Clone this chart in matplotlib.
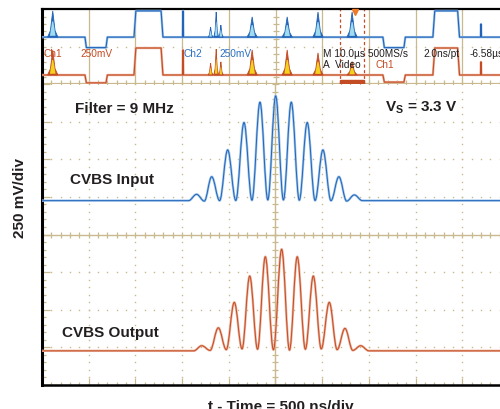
import numpy as np
import matplotlib
matplotlib.use("Agg")
import matplotlib.pyplot as plt
from matplotlib.path import Path
from matplotlib.patches import PathPatch, Rectangle

plt.rcParams['font.family'] = ['Liberation Sans', 'DejaVu Sans']
plt.rcParams['mathtext.fontset'] = 'custom'
plt.rcParams['mathtext.rm'] = 'Liberation Sans'
plt.rcParams['mathtext.bf'] = 'Liberation Sans:bold'

# zoomed view: time in ns (500 ns/div), level in mV (250 mV/div)
input_t = [-2500, -930, -845, -762, -683, -598, -512, -425, -337, -252, -166, -82,
           2, 85, 169, 255, 340, 424, 508, 594, 679, 762, 844, 930, 2404]
input_v = [225, 225, 267, 222, 384, 225, 562, 226, 744, 228, 879, 230,
           921, 230, 879, 228, 744, 226, 562, 225, 384, 222, 263, 225, 225]

output_t = [-2500, -875, -790, -700, -612, -527, -441, -358, -276, -192, -109, -22,
            66, 150, 233, 320, 405, 490, 576, 660, 744, 828, 912, 1000, 2404]
output_v = [-773, -773, -739, -770, -620, -765, -451, -760, -276, -762, -148, -766,
            -98, -768, -148, -762, -276, -760, -451, -765, -624, -770, -739, -773, -773]

# overview strip: time in us (10 us/div), level in strip units
top_blue_t = [-50, -40.8, -40.5, -36.3, -36.0, -30.3, -29.9, -24.5, -24.1, -19.9, -19.8, -19.7,
              23.0, 23.3, 27.5, 27.8, 33.7, 34.1, 39.0, 39.4, 43.9, 44.0, 44.1, 48.1]
top_blue_v = [1.25, 1.25, 0.97, 0.97, 1.25, 1.25, 1.95, 1.95, 1.25, 1.25, 1.95, 1.25,
              1.25, 0.97, 0.97, 1.25, 1.25, 1.95, 1.95, 1.25, 1.25, 1.6, 1.25, 1.25]
top_red_t = top_blue_t
top_red_v = [0.24, 0.24, 0.03, 0.03, 0.24, 0.24, 0.96, 0.96, 0.24, 0.24, 0.91, 0.24,
             0.24, 0.05, 0.05, 0.24, 0.24, 0.96, 0.96, 0.24, 0.24, 0.59, 0.24, 0.24]

burst_t = [-47.7, -5.0, 2.5, 9.1, 16.4]
burst_blue = [1.95, 1.79, 1.79, 1.92, 1.92]
burst_red = [0.91, 0.91, 0.91, 0.83, 0.60]
cluster_t = [-13.9, -12.7, -11.7]
cluster_blue = [1.52, 1.92, 1.57]
cluster_red = [0.56, 0.93, 0.59]

zoom_start, zoom_end = 13.9, 18.9

tan = '#c9b98f'
blue = '#2364b8'
blue_lt = '#9cc4ea'
red = '#c44c24'
red_lt = '#eab09a'
ink = '#231f20'


def wave_path(t, v, k=0.364):
    verts = [(t[0], v[0])]
    codes = [Path.MOVETO]
    for i in range(1, len(t)):
        dt = t[i] - t[i - 1]
        verts += [(t[i - 1] + k * dt, v[i - 1]), (t[i] - k * dt, v[i]), (t[i], v[i])]
        codes += [Path.CURVE4] * 3
    return Path(verts, codes)


def burst(ax, c, top, base, w, dark, light):
    h = top - base
    xs = [c - w, c - 0.45 * w, c - 0.12 * w, c, c + 0.12 * w, c + 0.45 * w, c + w]
    ys = [base, base + 0.25 * h, base + 0.8 * h, top, base + 0.8 * h, base + 0.25 * h, base]
    ax.fill(xs, ys, color=dark, lw=0.6, ec=dark, zorder=4)
    xs2 = [c - 0.55 * w, c - 0.1 * w, c + 0.1 * w, c + 0.55 * w]
    ys2 = [base + 0.05 * h, base + 0.6 * h, base + 0.6 * h, base + 0.05 * h]
    ax.fill(xs2, ys2, color=light, lw=0, zorder=5)


fig = plt.figure(figsize=(5.0, 4.09), dpi=100)
ax = fig.add_axes([42 / 500, 24 / 409, 458 / 500, 301 / 409])
top = fig.add_axes([42 / 500, 325 / 409, 458 / 500, 75 / 409])

# ---- main (zoomed) view
ax.set_xlim(-2500, 2404)
ax.set_ylim(-1000, 1000)
ax.set_xticks([])
ax.set_yticks([])
for s in ['top', 'right']:
    ax.spines[s].set_visible(False)
ax.spines['left'].set_linewidth(2.2)
ax.spines['bottom'].set_linewidth(1.8)
ax.spines['left'].set_color('black')
ax.spines['bottom'].set_color('black')

gx = [g for g in np.arange(-2000, 2500, 500) if g != 0]
gy = [g for g in np.arange(-750, 1000, 250) if g != 0]
dots_y = np.arange(-1000, 1001, 50)
dots_x = np.arange(-2500, 2405, 100)
for g in gx:
    ax.plot([g] * len(dots_y), dots_y, ls='none', marker='s', ms=1.0, color=tan, mew=0)
for g in gy:
    ax.plot(dots_x, [g] * len(dots_x), ls='none', marker='s', ms=1.0, color=tan, mew=0)

ax.axvline(0, color=tan, lw=1.0, zorder=1)
ax.axhline(0, color=tan, lw=1.0, zorder=1)
ax.plot([0] * len(dots_y), dots_y, ls='none', marker='_', ms=5, mew=0.9, color=tan)
ax.plot(dots_x, [0] * len(dots_x), ls='none', marker='|', ms=4, mew=0.9, color=tan)
# border ticks
minor_y = [y for y in dots_y if y % 250 != 0]
major_y = [y for y in dots_y if y % 250 == 0]
ax.plot([-2500] * len(minor_y), minor_y, ls='none', marker='_', ms=6, mew=0.9, color=tan)
ax.plot([-2500] * len(major_y), major_y, ls='none', marker='_', ms=12, mew=0.9, color=tan)
minor_x = [x for x in dots_x if x % 500 != 0]
major_x = [x for x in dots_x if x % 500 == 0]
ax.plot(minor_x, [-1000] * len(minor_x), ls='none', marker='|', ms=5, mew=0.9, color=tan)
ax.plot(major_x, [-1000] * len(major_x), ls='none', marker='|', ms=10, mew=0.9, color=tan)

ax.add_patch(PathPatch(wave_path(input_t, input_v), fill=False, ec=blue_lt, lw=1.7, zorder=3))
ax.add_patch(PathPatch(wave_path(input_t, input_v), fill=False, ec=blue, lw=0.7, zorder=3))
ax.add_patch(PathPatch(wave_path(output_t, output_v), fill=False, ec=red_lt, lw=1.7, zorder=3))
ax.add_patch(PathPatch(wave_path(output_t, output_v), fill=False, ec=red, lw=0.7, zorder=3))

# ---- overview strip
top.set_xlim(-50, 48.07)
top.set_ylim(0, 2)
top.set_xticks([])
top.set_yticks([])
for s in ['bottom', 'right']:
    top.spines[s].set_visible(False)
top.spines['left'].set_linewidth(2.2)
top.spines['top'].set_linewidth(1.6)
top.spines['left'].set_color('black')
top.spines['top'].set_color('black')
for g in np.arange(-40, 48, 10):
    top.axvline(g, color=tan, lw=0.9, zorder=1)
tx = np.arange(-50, 48.1, 2)
top.plot(tx, [1] * len(tx), ls='none', marker='s', ms=1.0, color=tan, mew=0)
top.axhline(0, color=tan, lw=1.6, zorder=1)
top.plot(tx, [0] * len(tx), ls='none', marker='|', ms=6, mew=0.9, color=tan)
ty = np.arange(0, 2.01, 0.2)
top.plot([0] * len(ty), ty, ls='none', marker='_', ms=5, mew=0.9, color=tan)
top.plot([-50] * len(ty), ty, ls='none', marker='_', ms=6, mew=0.9, color=tan)

top.plot(top_blue_t, top_blue_v, color=blue_lt, lw=1.7, zorder=3)
top.plot(top_blue_t, top_blue_v, color=blue, lw=0.8, zorder=3)
top.plot(top_red_t, top_red_v, color=red_lt, lw=1.7, zorder=3)
top.plot(top_red_t, top_red_v, color=red, lw=0.8, zorder=3)
for c, hb, hr in zip(burst_t, burst_blue, burst_red):
    burst(top, c, hb, 1.25, 1.1, blue, '#9fdcf0')
    burst(top, c, hr, 0.24, 1.1, red, '#f2d21c')
for c, hb, hr in zip(cluster_t, cluster_blue, cluster_red):
    burst(top, c, hb, 1.25, 0.5, blue, '#9fdcf0')
    burst(top, c, hr, 0.24, 0.5, red, '#f2d21c')

top.axvline(zoom_start, color=red, lw=0.9, ls=(0, (2.5, 2)), zorder=2)
top.axvline(zoom_end, color=red, lw=0.9, ls=(0, (2.5, 2)), zorder=2)
top.add_patch(Rectangle((zoom_start, 0.0), zoom_end - zoom_start, 0.1, color=red, zorder=4))
top.plot([17.0], [1.93], marker='v', ms=5, color='#ee7a2a', clip_on=False, zorder=6)


def fx(px):
    return px / 500


def fy(py):
    return 1 - py / 409


small = 7.3
fig.text(fx(44), fy(54), 'Ch1', color=red, fontsize=small, va='center')
fig.text(fx(80), fy(54), '250mV', color=red, fontsize=small, va='center')
fig.text(fx(183), fy(54), 'Ch2', color='#2a70c0', fontsize=small, va='center')
fig.text(fx(219), fy(54), '250mV', color='#2a70c0', fontsize=small, va='center')
fig.text(fx(323), fy(54), 'M 10.0\u00b5s 500MS/s', color=ink, fontsize=small, va='center')
fig.text(fx(423), fy(54), '2.0ns/pt', color=ink, fontsize=small, va='center')
fig.text(fx(470), fy(54), '-6.58\u00b5s', color=ink, fontsize=small, va='center')
fig.text(fx(323), fy(65), 'A  Video', color=ink, fontsize=small, va='center')
fig.text(fx(376), fy(65), 'Ch1', color=red, fontsize=small, va='center')

big = dict(fontsize=11, fontweight='bold', color=ink)
fig.text(fx(75), fy(109), 'Filter = 9 MHz', va='center', **big)
fig.text(fx(385), fy(108), r'V$_{\mathbf{S}}$ = 3.3 V', va='center', **big)
fig.text(fx(70), fy(180), 'CVBS Input', va='center', **big)
fig.text(fx(62), fy(333), 'CVBS Output', va='center', **big)
fig.text(fx(20), fy(198), '250 mV/div', va='center', ha='center', rotation=90, **big)
fig.text(fx(281), fy(400), 't - Time = 500 ns/div', va='top', ha='center', **big)

fig.savefig('out.png', dpi=100)
